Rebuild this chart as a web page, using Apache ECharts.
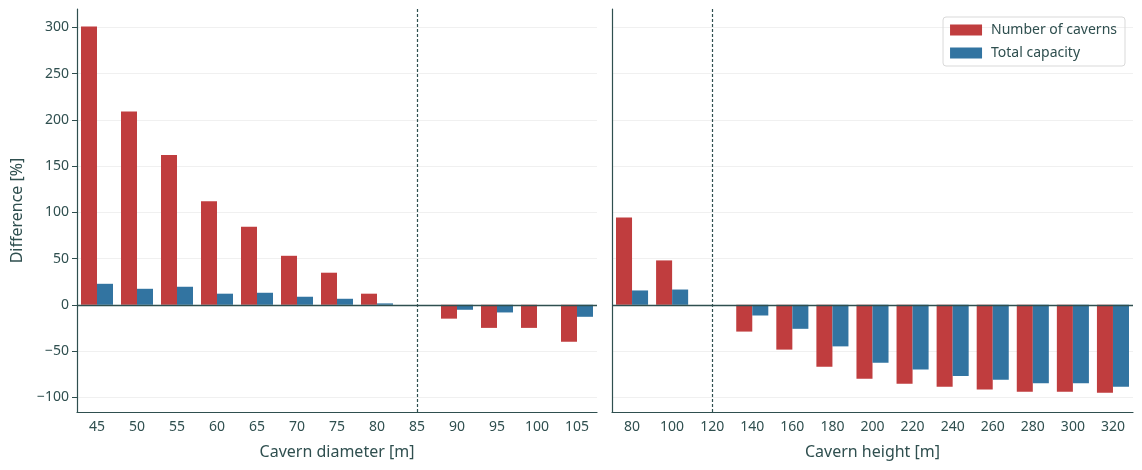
<!DOCTYPE html>
<html>
<head>
<meta charset="utf-8">
<script src="https://cdn.jsdelivr.net/npm/echarts@6/dist/echarts.min.js"></script>
<style>html,body{margin:0;padding:0;background:#fff;}#c{width:1142px;height:470px;}</style>
</head>
<body>
<div id="c"></div>
<script>
var diameters = ['45','50','55','60','65','70','75','80','85','90','95','100','105'];
var heights = ['80','100','120','140','160','180','200','220','240','260','280','300','320'];
var diamCount = [301, 209, 162, 112, 84.5, 53, 34.7, 12, 0, -15, -25, -25, -40];
var diamCap = [22.7, 17.3, 19.5, 12, 13, 8.7, 6.5, 1.5, 0, -5.4, -8.3, 0, -13];
var heightCount = [94.5, 48, 0, -29, -48.5, -67, -80, -85.5, -88.8, -91.7, -94, -94, -95.3];
var heightCap = [15.5, 16.5, 0, -11.6, -26, -45, -62.8, -70, -77, -81, -85, -85, -88.8];
var yTicks = [-100, -50, 0, 50, 100, 150, 200, 250, 300];
var diamThreshold = '85';
var heightThreshold = '120';

var FONT = 'Noto Sans';
var TXT = '#2f4f4f';
var RED = '#c03d3e';
var BLUE = '#3274a1';

function fmt(v){ return v < 0 ? '\u2212' + (-v) : String(v); }

function xAxisDef(idx, cats, name){
  return {
    type: 'category', gridIndex: idx, data: cats,
    name: name, nameLocation: 'middle', nameGap: 32,
    nameTextStyle: {color: TXT, fontSize: 16, fontFamily: FONT},
    axisLine: {onZero: false, lineStyle: {color: TXT, width: 1.2}},
    axisTick: {alignWithLabel: true, length: 5, lineStyle: {color: TXT}},
    axisLabel: {color: TXT, fontSize: 14, fontFamily: FONT, margin: 8},
    splitLine: {show: false}
  };
}
function yAxisDef(idx, showLabels){
  return {
    type: 'value', gridIndex: idx, min: -116, max: 320,
    name: showLabels ? 'Difference [%]' : '', nameLocation: 'middle', nameGap: 52,
    nameTextStyle: {color: TXT, fontSize: 16, fontFamily: FONT},
    axisLine: {show: true, onZero: false, lineStyle: {color: TXT, width: 1.2}},
    axisTick: {show: showLabels, length: 5, lineStyle: {color: TXT}, customValues: yTicks},
    axisLabel: {show: showLabels, color: TXT, fontSize: 14, fontFamily: FONT, margin: 8,
      customValues: yTicks, formatter: fmt},
    splitLine: {show: true, lineStyle: {color: '#f0f0f0', width: 1.2}}
  };
}
function marks(threshold){
  return {
    silent: true, symbol: 'none', label: {show: false},
    data: [
      {yAxis: 0, lineStyle: {color: TXT, type: 'solid', width: 1.3}},
      {xAxis: threshold, lineStyle: {color: TXT, type: [3, 2], width: 1.2}}
    ]
  };
}
var barBase = {type: 'bar', barGap: '0%', barCategoryGap: '20%'};

var option = {
  animation: false,
  backgroundColor: '#fff',
  textStyle: {fontFamily: FONT},
  grid: [
    {left: 77, right: 545, top: 9, bottom: 58},
    {left: 612, right: 9, top: 9, bottom: 58}
  ],
  legend: {
    data: ['Number of caverns', 'Total capacity'],
    orient: 'vertical', right: 17, top: 17,
    itemWidth: 32, itemHeight: 11, itemGap: 9,
    padding: [6, 8, 6, 7],
    borderColor: '#d9d9d9', borderWidth: 1, borderRadius: 3,
    textStyle: {color: TXT, fontSize: 14, fontFamily: FONT, padding: [0, 0, 0, 4]},
    icon: 'rect'
  },
  xAxis: [
    xAxisDef(0, diameters, 'Cavern diameter [m]'),
    xAxisDef(1, heights, 'Cavern height [m]')
  ],
  yAxis: [yAxisDef(0, true), yAxisDef(1, false)],
  series: [
    Object.assign({}, barBase, {name: 'Number of caverns', xAxisIndex: 0, yAxisIndex: 0, data: diamCount, itemStyle: {color: RED}}),
    Object.assign({}, barBase, {name: 'Total capacity', xAxisIndex: 0, yAxisIndex: 0, data: diamCap, itemStyle: {color: BLUE}}),
    Object.assign({}, barBase, {name: 'Number of caverns', xAxisIndex: 1, yAxisIndex: 1, data: heightCount, itemStyle: {color: RED}}),
    Object.assign({}, barBase, {name: 'Total capacity', xAxisIndex: 1, yAxisIndex: 1, data: heightCap, itemStyle: {color: BLUE}}),
    {type: 'line', name: 'refLeft', xAxisIndex: 0, yAxisIndex: 0, data: diameters.map(function(){ return null; }), showSymbol: false, markLine: marks(diamThreshold), z: 5},
    {type: 'line', name: 'refRight', xAxisIndex: 1, yAxisIndex: 1, data: heights.map(function(){ return null; }), showSymbol: false, markLine: marks(heightThreshold), z: 5}
  ]
};
var chart = echarts.init(document.getElementById('c'), null, {renderer: 'canvas'});
chart.setOption(option);
</script>
</body>
</html>
